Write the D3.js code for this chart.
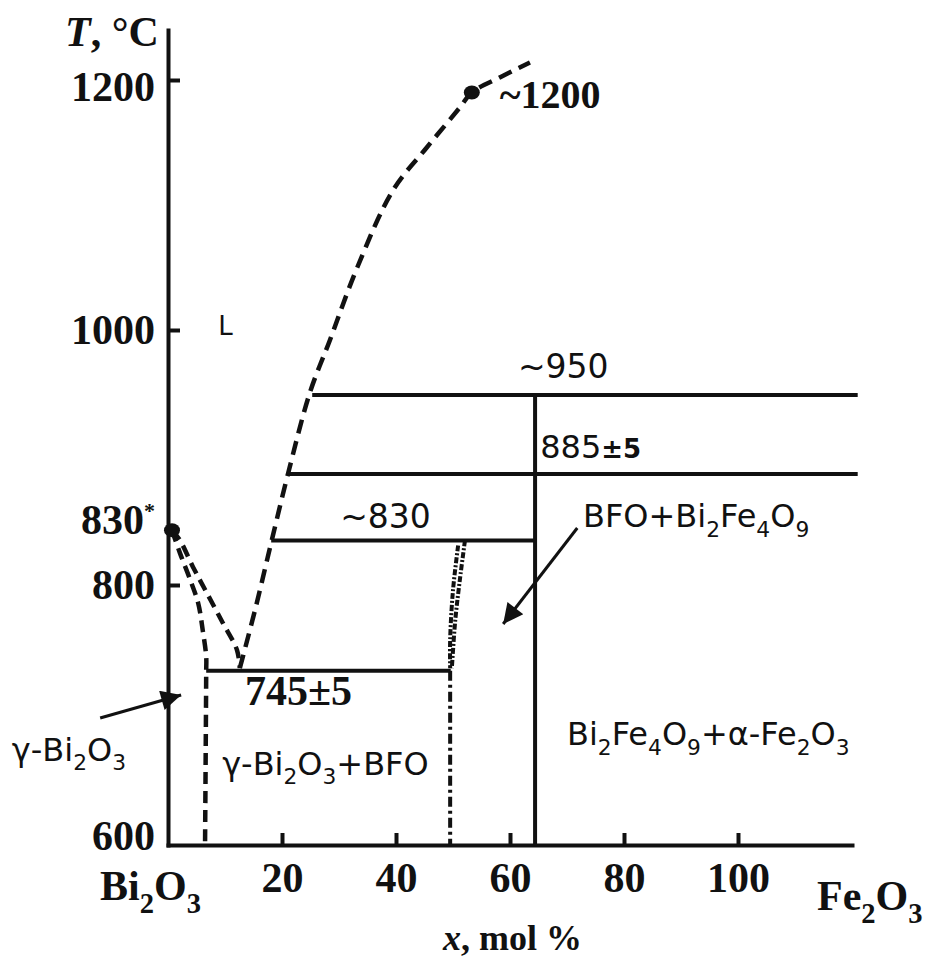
<!DOCTYPE html>
<html>
<head>
<meta charset="utf-8">
<script src="https://cdn.jsdelivr.net/npm/d3@7"></script>
<style>
  body { margin: 0; background: #fff; }
  #chart svg { display: block; }
</style>
</head>
<body>
<div id="chart"></div>
<script>
// Bi2O3 - Fe2O3 phase diagram
const xTicks = [20, 40, 60, 80, 100];
const yTicks = [600, 800, 1000, 1200];

// liquidus, right branch (eutectic -> ~1200 point and beyond)
const liquidusRight = [
    [12.6, 736], [15.4, 783], [18.2, 835], [21.1, 888], [24.9, 951], [28.4, 992],
    [33.2, 1050], [39.5, 1112], [45.4, 1146], [51.2, 1178], [53.3, 1190],
    [58.2, 1202], [63.5, 1214]
];
// liquidus, left branch (830 point -> eutectic)
const liquidusLeft = [[0.7, 843], [2.1, 835], [4.4, 814], [6.8, 794], [9.6, 771], [12.1, 750], [12.6, 736]];
// solidus / solvus of gamma-Bi2O3
const solvusLeft = [[0.7, 843], [2.1, 825], [3.9, 804], [5.3, 786], [6.1, 765], [6.7, 745], [6.7, 733], [6.5, 600]];
// BFO boundaries (dash-dot)
const bfoCurveA = [[52.1, 835], [51.2, 804], [50.4, 773], [49.8, 736]];
const bfoCurveB = [[50.9, 831], [50.0, 796], [49.5, 758], [49.5, 736]];
const bfoLine = [[49.5, 734], [49.5, 600]];

// horizontal isotherms: temperature, start x, end x
const isoT = [949, 887, 835, 734];
const isoX0 = [25.3, 21.0, 18.1, 6.7];
const isoX1 = [121, 121, 64.4, 49.6];
// Bi2Fe4O9 vertical line
const vLineX = 64.4;
const vLineT = [949, 600];

// marked points (830 and ~1200)
const dots = [[0.7, 843], [53.3, 1190]];

// phase / value labels: text, x, T  ("_" = subscript next char)
const labelText = ["L", "~950", "~830", "BFO+Bi_2Fe_4O_9", "\u03b3-Bi_2O_3+BFO", "Bi_2Fe_4O_9+\u03b1-Fe_2O_3", "\u03b3-Bi_2O_3"];
const labelX = [8.8, 61.4, 30.2, 72.8, 9.5, 70.0, -27.4];
const labelT = [996, 962, 845, 845.5, 654, 677, 665];
const labelSize = [26, 33, 33, 32, 32, 32, 32];

// arrows: from [x, T] to [x, T]
const arrows = [
    [[-11.9, 697.7], [2.3, 715.4]],
    [[71.8, 844.7], [58.8, 770]]
];

const width = 933;
const height = 960;
const serif = "'Liberation Serif', 'Times New Roman', serif";
const sans = "'DejaVu Sans', sans-serif";

const svg = d3.select("#chart")
    .append("svg")
    .attr("width", width)
    .attr("height", height)
    .attr("viewBox", `0 0 ${width} ${height}`);

svg.append("rect").attr("width", width).attr("height", height).attr("fill", "#fff");

const x = d3.scaleLinear().domain([0, 120]).range([168, 852]);
// the hand drawn axis is not quite linear, so use the tick positions
const y = d3.scaleLinear().domain([600, 800, 1000, 1240]).range([845, 585, 330, 30]);

svg.append("defs").append("marker")
    .attr("id", "arrow")
    .attr("viewBox", "0 0 10 10")
    .attr("refX", 10).attr("refY", 5)
    .attr("markerUnits", "userSpaceOnUse")
    .attr("markerWidth", 28).attr("markerHeight", 20)
    .attr("orient", "auto")
    .append("path")
    .attr("d", "M0,0L10,5L0,10z")
    .attr("fill", "#111");

// axes
const yAxis = svg.append("g")
    .attr("transform", `translate(${x(0)},0)`)
    .call(d3.axisLeft(y)
        .tickValues(yTicks)
        .tickSizeInner(-12)
        .tickSizeOuter(0)
        .tickPadding(13)
        .tickFormat(d3.format("d")));

const xAxis = svg.append("g")
    .attr("transform", `translate(0,${y(600)})`)
    .call(d3.axisBottom(x)
        .tickValues(xTicks)
        .tickSizeInner(-12)
        .tickSizeOuter(0)
        .tickPadding(17)
        .tickFormat(d3.format("d")));

[yAxis, xAxis].forEach(g => {
    g.select(".domain").attr("stroke", "#111").attr("stroke-width", 4).attr("stroke-linecap", "square");
    g.selectAll(".tick line").attr("stroke", "#111").attr("stroke-width", 4);
    g.selectAll(".tick text")
        .attr("fill", "#111")
        .style("font-family", serif)
        .style("font-weight", "bold")
        .style("font-size", "42px");
});
yAxis.selectAll(".tick").filter(d => d === 600).select("line").remove();
yAxis.selectAll(".tick").filter(d => d === 600).select("text").attr("dy", "0.1em");
yAxis.selectAll(".tick").filter(d => d === 1200).select("text").attr("dy", "0.48em");

// extra 830 label on the temperature axis
const t830 = svg.append("text")
    .attr("x", x(0) - 13)
    .attr("y", y(dots[0][1]) + 4)
    .attr("text-anchor", "end")
    .attr("fill", "#111")
    .style("font-family", serif)
    .style("font-weight", "bold")
    .style("font-size", "42px");
t830.append("tspan").text("830");
t830.append("tspan").attr("dy", -16).style("font-size", "22px").text("*");

// lines
const line = d3.line()
    .x(d => x(d[0]))
    .y(d => y(d[1]))
    .curve(d3.curveCatmullRom.alpha(0.5));

function drawPath(pts, dash, w) {
    svg.append("path")
        .datum(pts)
        .attr("d", line)
        .attr("fill", "none")
        .attr("stroke", "#111")
        .attr("stroke-width", w)
        .attr("stroke-dasharray", dash);
}

drawPath(liquidusRight, "14,8", 4.5);
drawPath(liquidusLeft, "12,7", 4.5);
drawPath(solvusLeft, "12,7", 4.5);
drawPath(bfoCurveA, "6,2,2,2", 4);
drawPath(bfoCurveB, "6,2,2,2", 4);
drawPath(bfoLine, "10,4,3,4", 4);

svg.selectAll(".iso")
    .data(isoT)
    .enter()
    .append("line")
    .attr("class", "iso")
    .attr("x1", (d, i) => x(isoX0[i]))
    .attr("x2", (d, i) => x(isoX1[i]))
    .attr("y1", d => y(d))
    .attr("y2", d => y(d))
    .attr("stroke", "#111")
    .attr("stroke-width", 4);

svg.append("line")
    .attr("x1", x(vLineX)).attr("x2", x(vLineX))
    .attr("y1", y(vLineT[0])).attr("y2", y(vLineT[1]))
    .attr("stroke", "#111")
    .attr("stroke-width", 4);

svg.selectAll(".dot")
    .data(dots)
    .enter()
    .append("ellipse")
    .attr("class", "dot")
    .attr("cx", d => x(d[0]))
    .attr("cy", d => y(d[1]))
    .attr("rx", 8)
    .attr("ry", 7)
    .attr("fill", "#111");

// arrows
svg.selectAll(".arrow")
    .data(arrows)
    .enter()
    .append("line")
    .attr("class", "arrow")
    .attr("x1", d => x(d[0][0]))
    .attr("y1", d => y(d[0][1]))
    .attr("x2", d => x(d[1][0]))
    .attr("y2", d => y(d[1][1]))
    .attr("stroke", "#111")
    .attr("stroke-width", 3)
    .attr("marker-end", "url(#arrow)");

// text with subscripts
function richText(sel, str, size) {
    const tokens = str.match(/_.|[^_]+/g);
    let shifted = false;
    tokens.forEach(tok => {
        if (tok[0] === "_") {
            sel.append("tspan")
                .attr("dy", shifted ? 0 : size * 0.3)
                .style("font-size", `${size * 0.68}px`)
                .text(tok[1]);
            shifted = true;
        } else {
            sel.append("tspan")
                .attr("dy", shifted ? -size * 0.3 : 0)
                .text(tok);
            shifted = false;
        }
    });
}

labelText.forEach((txt, i) => {
    const t = svg.append("text")
        .attr("x", x(labelX[i]))
        .attr("y", y(labelT[i]))
        .attr("fill", "#111")
        .style("font-family", sans)
        .style("font-size", `${labelSize[i]}px`);
    richText(t, txt, labelSize[i]);
});

// 885 +- 5 (smudged in the original)
const t885 = svg.append("text")
    .attr("x", x(65.3))
    .attr("y", y(900))
    .attr("fill", "#111")
    .style("font-family", sans)
    .style("font-size", "32px");
t885.append("tspan").text("885");
t885.append("tspan").style("font-weight", "bold").style("font-size", "26px").text("\u00b15");

// serif value labels
[["745\u00b15", 13.5, 708, 42], ["~1200", 58.2, 1178, 40]].forEach(d => {
    svg.append("text")
        .attr("x", x(d[1]))
        .attr("y", y(d[2]))
        .attr("fill", "#111")
        .style("font-family", serif)
        .style("font-weight", "bold")
        .style("font-size", `${d[3]}px`)
        .text(d[0]);
});

// axis titles and end members
const tTitle = svg.append("text")
    .attr("x", 65).attr("y", 46)
    .attr("fill", "#111")
    .style("font-family", serif)
    .style("font-weight", "bold")
    .style("font-size", "42px");
tTitle.append("tspan").style("font-style", "italic").text("T");
tTitle.append("tspan").text(", \u00b0C");

const xTitle = svg.append("text")
    .attr("x", 443).attr("y", 950)
    .attr("fill", "#111")
    .style("font-family", serif)
    .style("font-weight", "bold")
    .style("font-size", "36px");
xTitle.append("tspan").style("font-style", "italic").text("x");
xTitle.append("tspan").text(", mol %");

[["Bi_2O_3", 100, 900], ["Fe_2O_3", 817, 910]].forEach(d => {
    const t = svg.append("text")
        .attr("x", d[1]).attr("y", d[2])
        .attr("fill", "#111")
        .style("font-family", serif)
        .style("font-weight", "bold")
        .style("font-size", "42px");
    richText(t, d[0], 42);
});
</script>
</body>
</html>
